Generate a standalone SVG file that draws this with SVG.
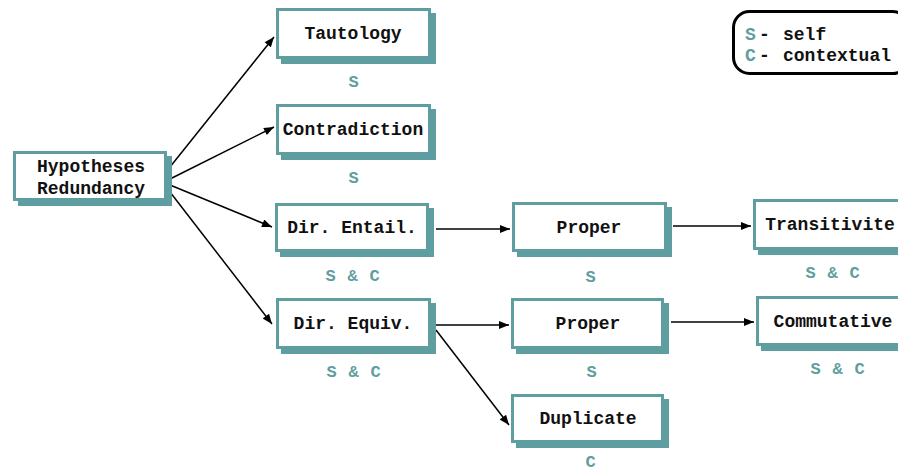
<svg xmlns="http://www.w3.org/2000/svg" width="898" height="473" viewBox="0 0 898 473">
  <defs>
    <marker id="arrow" viewBox="0 0 10 8" refX="10" refY="4" markerWidth="11" markerHeight="8" markerUnits="userSpaceOnUse" orient="auto">
      <path d="M0,0 L10,4 L0,8 z" fill="#000"/>
    </marker>
    <style>
      .shadow { fill: #5f9ea0; }
      .box { fill: #fff; stroke: #5f9ea0; stroke-width: 3; }
      .name { font-family: "Liberation Mono", "Courier New", monospace; font-weight: bold; font-size: 18px; fill: #111; text-anchor: middle; }
      .tag { font-family: "Liberation Mono", "Courier New", monospace; font-weight: bold; font-size: 17px; fill: #5f9ea0; text-anchor: middle; letter-spacing: 0.8px; }
      .edge { fill: none; stroke: #000; stroke-width: 1.5; marker-end: url(#arrow); }
      .legend-frame { fill: #fff; stroke: #000; stroke-width: 3; }
      .legend { font-family: "Liberation Mono", "Courier New", monospace; font-weight: bold; font-size: 18px; fill: #111; }
      .key { fill: #5f9ea0; }
    </style>
  </defs>

  <rect width="898" height="473" fill="#fff"/>

  <!-- connectors -->
  <g id="connectors">
    <line class="edge" x1="170" y1="167" x2="274" y2="37"/>
    <line class="edge" x1="170" y1="179" x2="274" y2="127"/>
    <line class="edge" x1="170" y1="185" x2="272" y2="227"/>
    <line class="edge" x1="170" y1="192" x2="272" y2="324"/>
    <line class="edge" x1="436" y1="229" x2="510" y2="229"/>
    <line class="edge" x1="673" y1="226" x2="751" y2="226"/>
    <line class="edge" x1="436" y1="325" x2="509" y2="325"/>
    <line class="edge" x1="436" y1="330" x2="509" y2="425"/>
    <line class="edge" x1="671" y1="322" x2="754" y2="322"/>
  </g>

  <!-- nodes -->
  <g id="hypotheses">
    <rect class="shadow" x="18" y="156" width="154" height="50"/>
    <rect class="box" x="14.5" y="152.5" width="151" height="47"/>
    <text class="name" x="91" y="172">Hypotheses</text>
    <text class="name" x="91" y="194">Redundancy</text>
  </g>

  <g id="tautology">
    <rect class="shadow" x="281" y="13" width="155" height="51"/>
    <rect class="box" x="277.5" y="9.5" width="152" height="48"/>
    <text class="name" x="353" y="39">Tautology</text>
    <text class="tag" x="354" y="87">S</text>
  </g>

  <g id="contradiction">
    <rect class="shadow" x="281" y="109" width="155" height="51"/>
    <rect class="box" x="277.5" y="105.5" width="152" height="48"/>
    <text class="name" x="353" y="135">Contradiction</text>
    <text class="tag" x="354" y="183">S</text>
  </g>

  <g id="dir-entail">
    <rect class="shadow" x="280" y="208" width="154" height="49"/>
    <rect class="box" x="276.5" y="204.5" width="151" height="46"/>
    <text class="name" x="352" y="233">Dir. Entail.</text>
    <text class="tag" x="353" y="281">S &amp; C</text>
  </g>

  <g id="dir-equiv">
    <rect class="shadow" x="281" y="303" width="155" height="51"/>
    <rect class="box" x="277.5" y="299.5" width="152" height="48"/>
    <text class="name" x="353" y="329">Dir. Equiv.</text>
    <text class="tag" x="354" y="377">S &amp; C</text>
  </g>

  <g id="proper-entail">
    <rect class="shadow" x="517" y="207" width="155" height="50"/>
    <rect class="box" x="513.5" y="203.5" width="152" height="47"/>
    <text class="name" x="589" y="233">Proper</text>
    <text class="tag" x="591" y="282">S</text>
  </g>

  <g id="transitivite">
    <rect class="shadow" x="758" y="204" width="155" height="51"/>
    <rect class="box" x="754.5" y="200.5" width="152" height="48"/>
    <text class="name" x="830" y="230">Transitivite</text>
    <text class="tag" x="833" y="278">S &amp; C</text>
  </g>

  <g id="proper-equiv">
    <rect class="shadow" x="516" y="303" width="153" height="51"/>
    <rect class="box" x="512.5" y="299.5" width="150" height="48"/>
    <text class="name" x="588" y="329">Proper</text>
    <text class="tag" x="592" y="377">S</text>
  </g>

  <g id="commutative">
    <rect class="shadow" x="761" y="301" width="154" height="50"/>
    <rect class="box" x="757.5" y="297.5" width="151" height="47"/>
    <text class="name" x="833" y="327">Commutative</text>
    <text class="tag" x="838" y="374">S &amp; C</text>
  </g>

  <g id="duplicate">
    <rect class="shadow" x="516" y="399" width="153" height="49"/>
    <rect class="box" x="512.5" y="395.5" width="150" height="46"/>
    <text class="name" x="588" y="424">Duplicate</text>
    <text class="tag" x="591" y="467">C</text>
  </g>

  <!-- key -->
  <g id="legend">
    <rect class="legend-frame" x="733.5" y="11.5" width="175" height="62" rx="16" ry="16"/>
    <text class="legend" y="40"><tspan class="key" x="745">S</tspan><tspan x="759">-</tspan><tspan x="783">self</tspan></text>
    <text class="legend" y="61"><tspan class="key" x="745">C</tspan><tspan x="759">-</tspan><tspan x="783">contextual</tspan></text>
  </g>
</svg>
